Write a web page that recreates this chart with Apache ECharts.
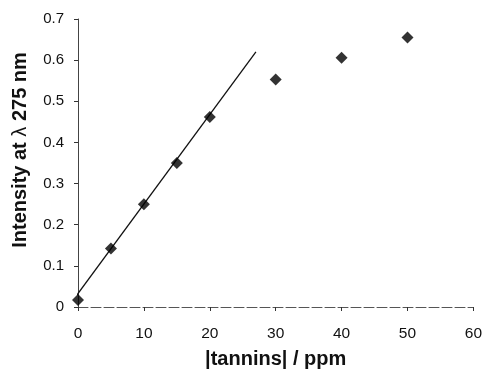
<!DOCTYPE html>
<html>
<head>
<meta charset="utf-8">
<script src="https://cdn.jsdelivr.net/npm/echarts@6/dist/echarts.min.js"></script>
<style>
  html, body { margin: 0; padding: 0; background: #fff; }
  #chart { width: 485px; height: 375px; }
</style>
</head>
<body>
<div id="chart"></div>
<script>
// measured points
var tannins = [0, 5, 10, 15, 20, 30, 40, 50];
var intensity = [0.017, 0.142, 0.25, 0.35, 0.462, 0.553, 0.606, 0.655];

// fitted line drawn over the linear part
var fitX = [-1.5, 27];
var fitY = [0, 0.62];

var xTicks = [0, 10, 20, 30, 40, 50, 60];
var yTicks = [0, 0.1, 0.2, 0.3, 0.4, 0.5, 0.6, 0.7];

var chart = echarts.init(document.getElementById('chart'));

var font = '"Liberation Sans", Arial, sans-serif';

chart.setOption({
    animation: false,
    textStyle: { fontFamily: font },
    grid: { left: 78, right: 11, top: 19, bottom: 68 },
    xAxis: {
        type: 'value',
        min: xTicks[0],
        max: xTicks[xTicks.length - 1],
        interval: 10,
        name: '|tannins| / ppm',
        nameLocation: 'middle',
        nameGap: 42,
        nameTextStyle: { fontFamily: font, fontSize: 20, fontWeight: 'bold', color: '#111' },
        axisLine: { lineStyle: { color: '#555', width: 1, type: [10, 3] } },
        axisTick: { show: true, length: 4, lineStyle: { color: '#333' } },
        axisLabel: { fontFamily: font, fontSize: 15.5, color: '#111', margin: 19 },
        splitLine: { show: false }
    },
    yAxis: {
        type: 'value',
        min: yTicks[0],
        max: yTicks[yTicks.length - 1],
        interval: 0.1,
        name: 'Intensity at {l|λ} 275 nm',
        nameLocation: 'middle',
        nameGap: 48,
        nameTextStyle: {
            fontFamily: font, fontSize: 20, fontWeight: 'bold', color: '#111',
            padding: [0, 0, 0, 26],
            rich: {
                l: { fontFamily: font, fontSize: 20, fontWeight: 'normal', color: '#111' }
            }
        },
        axisLine: { show: true, lineStyle: { color: '#444', width: 1 } },
        axisTick: { show: true, length: 4, lineStyle: { color: '#333' } },
        axisLabel: {
            fontFamily: font, fontSize: 15, color: '#111', margin: 14,
            formatter: function (v) { return v === 0 ? '0' : v.toFixed(1); }
        },
        splitLine: { show: false }
    },
    series: [
        {
            type: 'line',
            data: fitX.map(function (x, i) { return [x, fitY[i]]; }),
            showSymbol: false,
            clip: false,
            lineStyle: { color: '#111', width: 1.3 },
            z: 2
        },
        {
            type: 'scatter',
            data: tannins.map(function (x, i) { return [x, intensity[i]]; }),
            symbol: 'diamond',
            symbolSize: 12,
            itemStyle: { color: '#000' },
            z: 3
        }
    ]
});
</script>
</body>
</html>
